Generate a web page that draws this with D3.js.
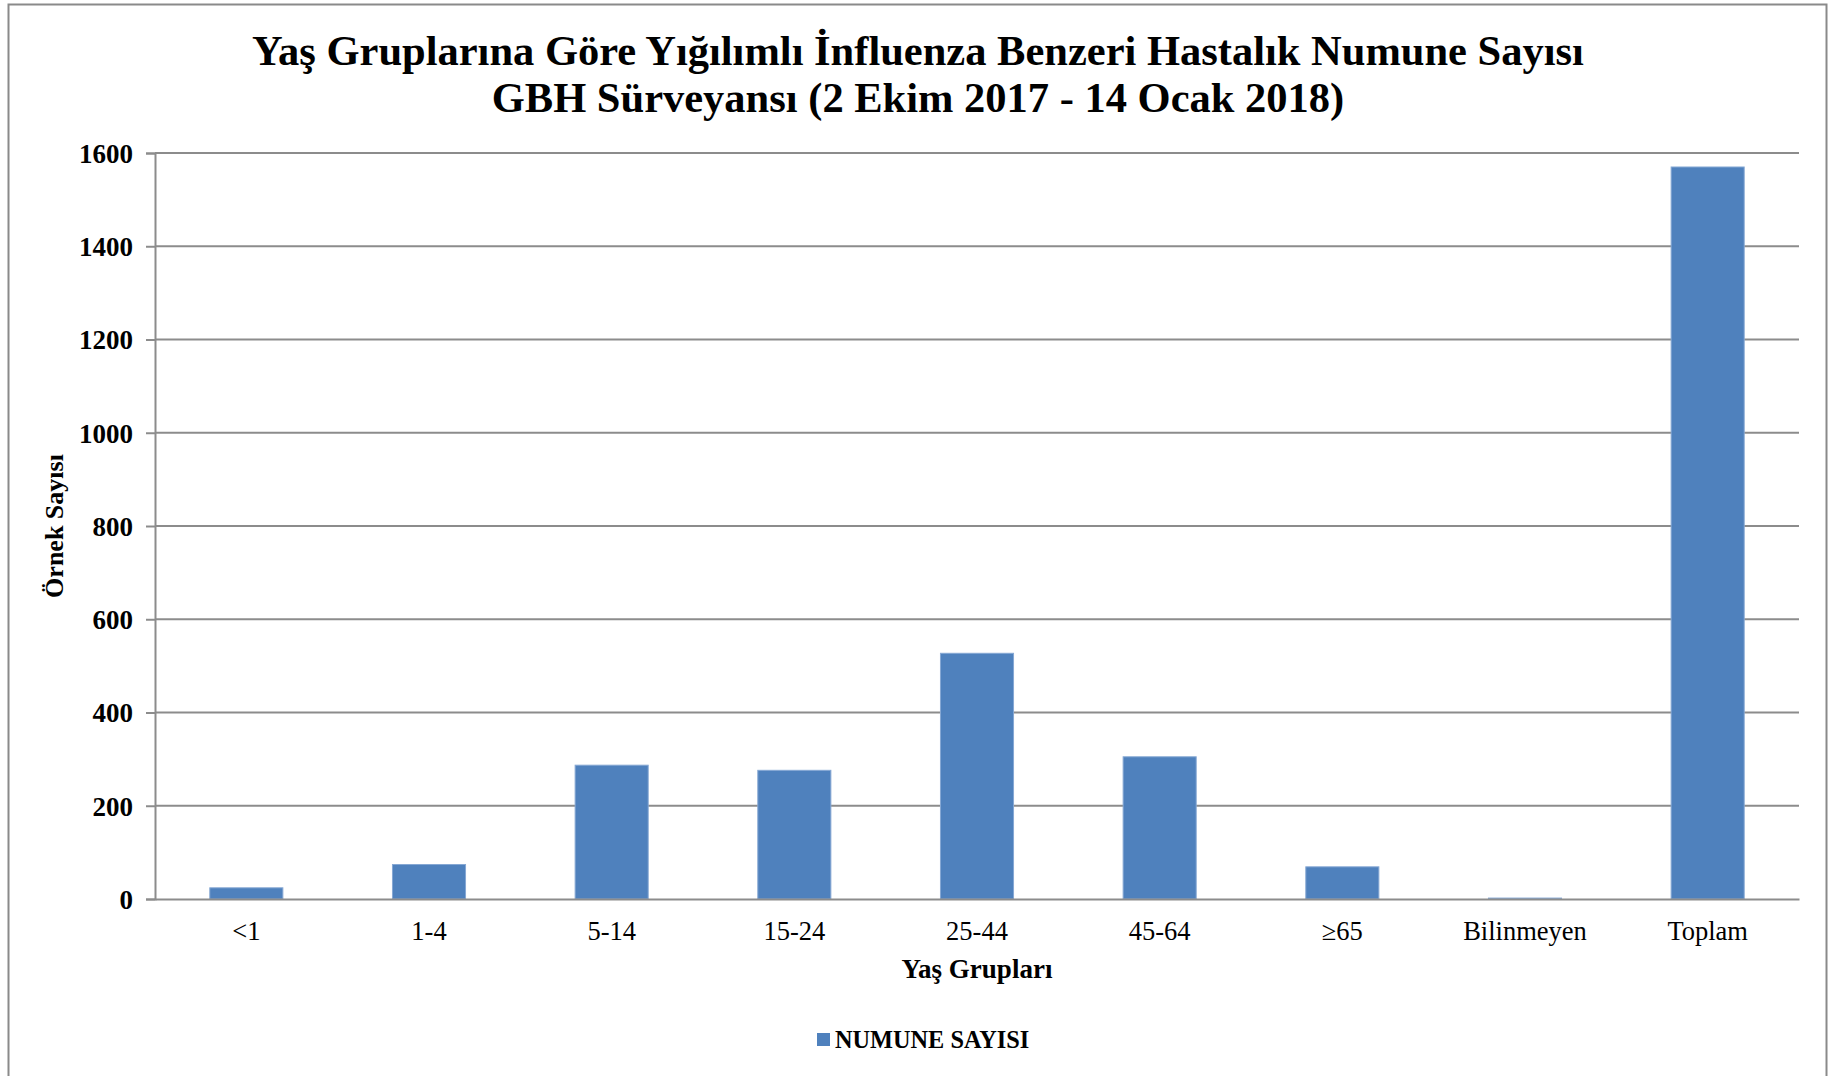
<!DOCTYPE html>
<html>
<head>
<meta charset="utf-8">
<style>
  body { margin: 0; background: #fff; }
  svg { display: block; }
</style>
</head>
<body>
<svg width="1829" height="1076" font-family="'Liberation Serif', 'Times New Roman', serif"></svg>

<script src="https://d3js.org/d3.v7.min.js"></script>

<script>

var ageGroups = ["<1", "1-4", "5-14", "15-24", "25-44", "45-64", "\u226565", "Bilinmeyen", "Toplam"];
var sampleCounts = [24, 74, 287, 276, 527, 305, 69, 2, 1570];
var yTicks = [0, 200, 400, 600, 800, 1000, 1200, 1400, 1600];
var seriesName = "NUMUNE SAYISI";

var svg = d3.select("svg"),
    width = +svg.attr("width"),
    height = +svg.attr("height");

var plot = { left: 155, right: 1799, top: 153, bottom: 899 };

var x = d3.scaleBand()
    .domain(ageGroups)
    .range([plot.left, plot.right])
    .paddingInner(0.6)
    .paddingOuter(0.3);

var y = d3.scaleLinear()
    .domain([0, 1600])
    .range([plot.bottom, plot.top]);

// chart border
svg.append("rect")
    .attr("x", 8.5)
    .attr("y", 4.5)
    .attr("width", 1818)
    .attr("height", 1090)
    .attr("fill", "none")
    .attr("stroke", "#8a8a8a")
    .attr("stroke-width", 2);

// title
var title = svg.append("text")
    .attr("text-anchor", "middle")
    .attr("font-weight", "bold")
    .attr("font-size", 42.5)
    .attr("fill", "#000");
title.append("tspan").attr("x", 918).attr("y", 65)
    .text("Yaş Gruplarına Göre Yığılımlı İnfluenza Benzeri Hastalık Numune Sayısı");
title.append("tspan").attr("x", 918).attr("y", 112)
    .text("GBH Sürveyansı (2 Ekim 2017 - 14 Ocak 2018)");

// gridlines
svg.append("g")
  .selectAll("line")
  .data(yTicks.filter(function(d) { return d > 0; }))
  .enter().append("line")
    .attr("x1", plot.left)
    .attr("x2", plot.right)
    .attr("y1", function(d) { return y(d); })
    .attr("y2", function(d) { return y(d); })
    .attr("stroke", "#8c8c8c")
    .attr("stroke-width", 2);

// bars
svg.append("g")
  .selectAll("rect")
  .data(sampleCounts)
  .enter().append("rect")
    .attr("x", function(d, i) { return x(ageGroups[i]); })
    .attr("y", function(d) { return y(d); })
    .attr("width", x.bandwidth())
    .attr("height", function(d) { return y(0) - y(d); })
    .attr("fill", "#4f81bd")
    .attr("stroke", "#86a8d4")
    .attr("stroke-width", 1);

// y axis
var yAxis = svg.append("g")
    .attr("transform", "translate(" + plot.left + ",0)")
    .call(d3.axisLeft(y).tickValues(yTicks).tickFormat(d3.format("d")).tickSize(9).tickPadding(13));
yAxis.select(".domain").attr("stroke", "#8c8c8c").attr("stroke-width", 2);
yAxis.selectAll(".tick line").attr("stroke", "#8c8c8c").attr("stroke-width", 2);
yAxis.selectAll(".tick text")
    .attr("font-family", "'Liberation Serif', serif")
    .attr("font-size", 27)
    .attr("font-weight", "bold")
    .attr("fill", "#000")
    .attr("dy", "0.35em");

// x axis
var xAxis = svg.append("g")
    .attr("transform", "translate(0," + plot.bottom + ")")
    .call(d3.axisBottom(x).tickSize(0).tickPadding(22));
xAxis.select(".domain").attr("stroke", "#8c8c8c").attr("stroke-width", 2);
xAxis.selectAll(".tick text")
    .attr("font-family", "'Liberation Serif', serif")
    .attr("font-size", 26.5)
    .attr("fill", "#000");

// axis titles
svg.append("text")
    .attr("transform", "translate(63,526) rotate(-90)")
    .attr("text-anchor", "middle")
    .attr("font-weight", "bold")
    .attr("font-size", 26)
    .text("Örnek Sayısı");

svg.append("text")
    .attr("x", 977)
    .attr("y", 978)
    .attr("text-anchor", "middle")
    .attr("font-weight", "bold")
    .attr("font-size", 27)
    .text("Yaş Grupları");

// legend
var legend = svg.append("g").attr("transform", "translate(817,1033)");
legend.append("rect")
    .attr("width", 13)
    .attr("height", 13)
    .attr("fill", "#4f81bd");
legend.append("text")
    .attr("x", 18)
    .attr("y", 15)
    .attr("font-weight", "bold")
    .attr("font-size", 24.3)
    .text(seriesName);

</script>
</body>
</html>
